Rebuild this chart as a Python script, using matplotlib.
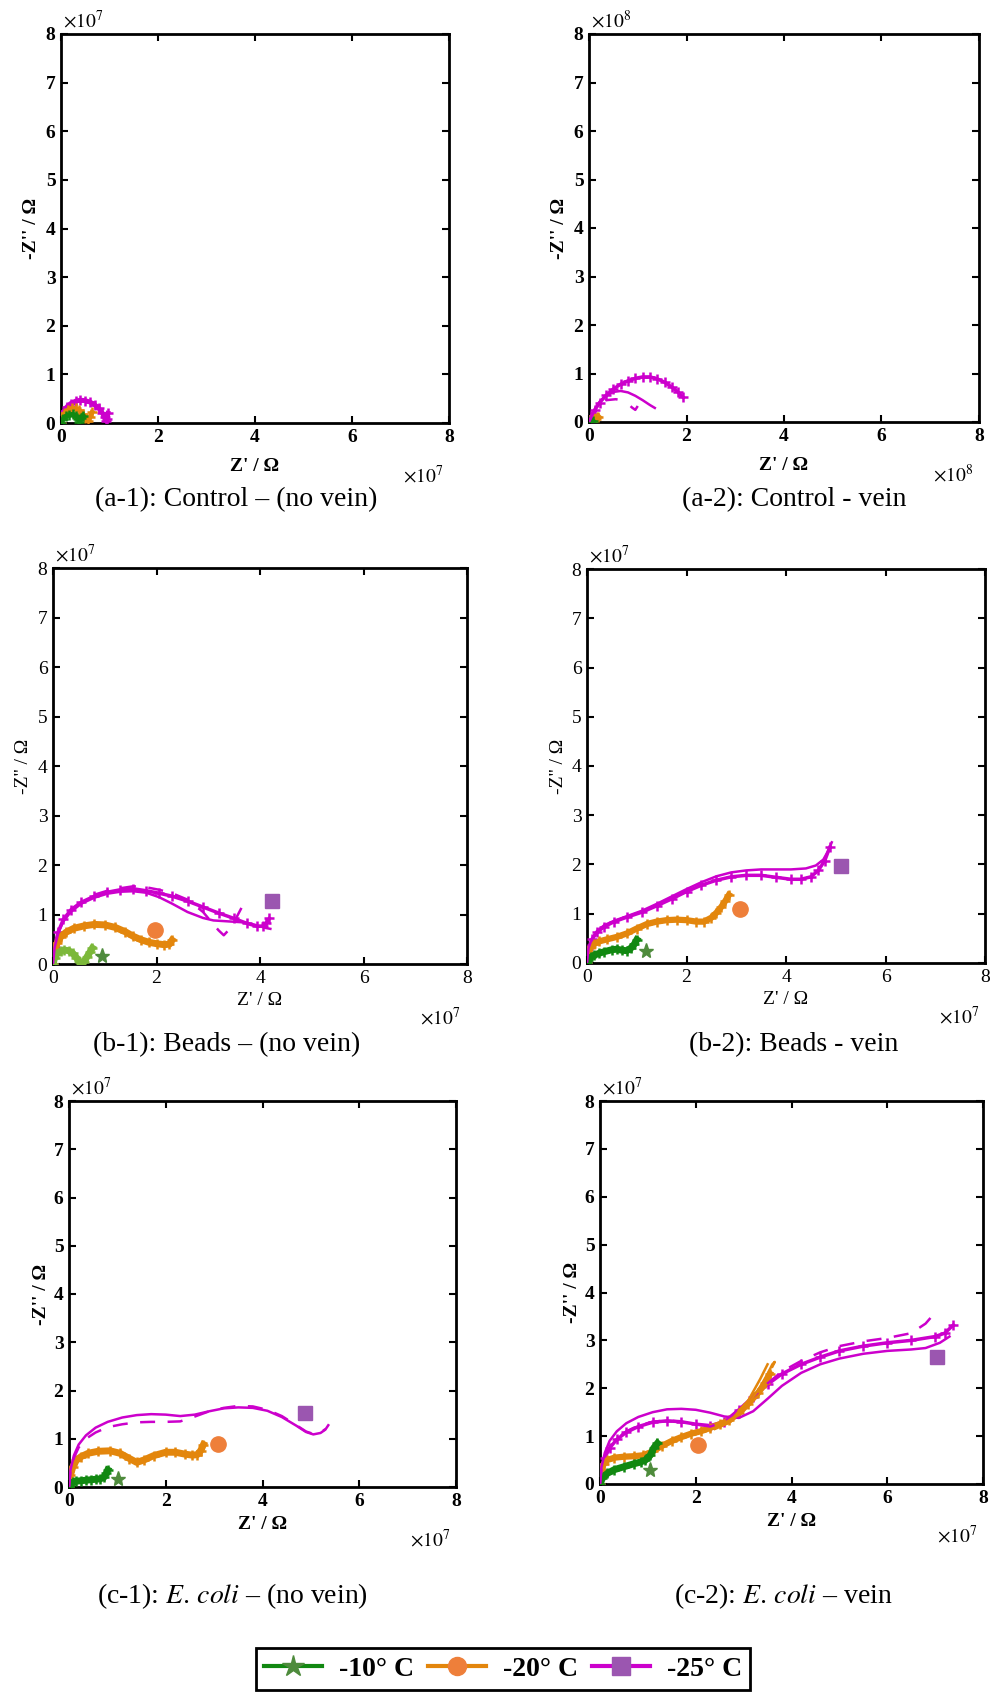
import matplotlib
matplotlib.use("Agg")
import matplotlib.pyplot as plt
from matplotlib.lines import Line2D

plt.rcParams['font.family'] = ['Liberation Serif', 'DejaVu Serif']
plt.rcParams['mathtext.fontset'] = 'stix'

MAG = '#cc00cc'
ORA = '#e3860c'
GRN = '#118811'
LGRN = '#7cb83a'
CIRC = '#ee7f3a'
SQR = '#9b56b0'
STAR = '#4e8b3c'

temps = ['-10° C', '-20° C', '-25° C']

# ---- (a-1) control, no vein  (x1e7)
a1_mag_x = [0, 0.02, 0.06, 0.12, 0.2, 0.3, 0.4, 0.5, 0.6, 0.7, 0.78, 0.85, 0.9, 0.93, 0.95, 0.97]
a1_mag_y = [0, 0.12, 0.24, 0.33, 0.4, 0.45, 0.47, 0.46, 0.43, 0.37, 0.3, 0.21, 0.12, 0.05, 0.08, 0.2]
a1_ora_x = [0, 0.03, 0.08, 0.15, 0.22, 0.3, 0.38, 0.45, 0.5, 0.55, 0.6, 0.64]
a1_ora_y = [0, 0.12, 0.21, 0.27, 0.3, 0.3, 0.26, 0.18, 0.1, 0.05, 0.12, 0.22]
a1_grn_x = [0, 0.04, 0.1, 0.17, 0.25, 0.3, 0.35, 0.38, 0.42, 0.45]
a1_grn_y = [0, 0.08, 0.14, 0.17, 0.18, 0.15, 0.08, 0.03, 0.1, 0.15]

# ---- (a-2) control, vein  (x1e8)
a2_mag_x = [0, 0.05, 0.12, 0.22, 0.35, 0.5, 0.65, 0.8, 0.95, 1.1, 1.25, 1.4, 1.55, 1.7, 1.82, 1.92]
a2_mag_y = [0, 0.12, 0.25, 0.4, 0.55, 0.68, 0.78, 0.85, 0.9, 0.93, 0.93, 0.89, 0.82, 0.72, 0.62, 0.52]
a2_magfit_x = [0, 0.05, 0.12, 0.22, 0.35, 0.5, 0.65, 0.8, 0.95, 1.1, 1.25, 1.35]
a2_magfit_y = [0, 0.13, 0.27, 0.42, 0.54, 0.62, 0.64, 0.61, 0.54, 0.45, 0.35, 0.29]
a2_magdash_x = [0, 0.1, 0.2, 0.35, 0.55, 0.7, 0.8, 0.88, 0.95, 1.0]
a2_magdash_y = [0, 0.2, 0.35, 0.45, 0.47, 0.44, 0.38, 0.3, 0.25, 0.33]
a2_ora_x = [0, 0.03, 0.07, 0.11, 0.15, 0.18]
a2_ora_y = [0, 0.04, 0.08, 0.09, 0.07, 0.1]
a2_grn_x = [0, 0.02, 0.05, 0.08]
a2_grn_y = [0, 0.02, 0.03, 0.02]

# ---- (b-1) beads, no vein
b1_mag_x = [0, 0.03, 0.1, 0.2, 0.35, 0.55, 0.8, 1.05, 1.3, 1.55, 1.8, 2.05, 2.3, 2.6, 2.9, 3.2, 3.5, 3.75, 3.95, 4.05, 4.12, 4.18]
b1_mag_y = [0, 0.35, 0.65, 0.9, 1.1, 1.25, 1.37, 1.45, 1.5, 1.52, 1.48, 1.43, 1.37, 1.27, 1.15, 1.03, 0.92, 0.82, 0.76, 0.77, 0.83, 0.92]
b1_magfit_x = [0, 0.03, 0.1, 0.2, 0.35, 0.55, 0.8, 1.05, 1.3, 1.55, 1.8, 2.05, 2.3, 2.6, 2.9, 3.1, 3.4, 3.7, 3.95, 4.1, 4.2]
b1_magfit_y = [0, 0.33, 0.62, 0.86, 1.06, 1.22, 1.34, 1.42, 1.46, 1.47, 1.44, 1.35, 1.22, 1.05, 0.93, 0.88, 0.86, 0.84, 0.78, 0.73, 0.71]
b1_magdash_x = [0.8, 1.05, 1.3, 1.55, 1.8, 2.05, 2.3, 2.6, 2.9, 3.1, 3.2, 3.3, 3.45, 3.6, 3.75]
b1_magdash_y = [1.4, 1.48, 1.53, 1.57, 1.55, 1.5, 1.43, 1.3, 1.05, 0.8, 0.68, 0.58, 0.75, 1.05, 1.35]
b1_ora_x = [0, 0.03, 0.08, 0.15, 0.25, 0.4, 0.6, 0.8, 1.0, 1.2, 1.4, 1.55, 1.7, 1.85, 2.0, 2.15, 2.25, 2.3]
b1_ora_y = [0, 0.25, 0.42, 0.55, 0.64, 0.72, 0.77, 0.8, 0.79, 0.74, 0.65, 0.56, 0.49, 0.44, 0.41, 0.39, 0.4, 0.48]
b1_grn_x = [0, 0.03, 0.08, 0.15, 0.22, 0.3, 0.38, 0.45, 0.5, 0.55, 0.6, 0.66, 0.72, 0.76]
b1_grn_y = [0, 0.12, 0.21, 0.26, 0.28, 0.27, 0.22, 0.13, 0.06, 0.01, 0.05, 0.15, 0.25, 0.32]
b1_points = [(0.95, 0.17), (1.98, 0.69), (4.23, 1.27)]

# ---- (b-2) beads, vein
b2_magfit_x = [0, 0.03, 0.1, 0.2, 0.35, 0.55, 0.8, 1.1, 1.4, 1.7, 2.0, 2.3, 2.6, 2.9, 3.2, 3.5, 3.8, 4.1, 4.4, 4.6, 4.75, 4.85, 4.92]
b2_magfit_y = [0, 0.3, 0.5, 0.65, 0.77, 0.86, 0.95, 1.06, 1.2, 1.35, 1.5, 1.64, 1.76, 1.84, 1.88, 1.9, 1.9, 1.9, 1.92, 1.98, 2.1, 2.28, 2.45]
b2_mag_x = [0, 0.03, 0.1, 0.2, 0.35, 0.55, 0.8, 1.1, 1.4, 1.7, 2.0, 2.3, 2.6, 2.9, 3.2, 3.5, 3.8, 4.1, 4.3, 4.5, 4.65, 4.78, 4.88]
b2_mag_y = [0, 0.28, 0.48, 0.62, 0.74, 0.84, 0.93, 1.03, 1.16, 1.3, 1.45, 1.58, 1.68, 1.75, 1.78, 1.78, 1.74, 1.7, 1.7, 1.75, 1.88, 2.08, 2.35]
b2_ora_x = [0, 0.03, 0.08, 0.15, 0.25, 0.4, 0.6, 0.8, 1.0, 1.2, 1.4, 1.6, 1.8, 2.0, 2.2, 2.35, 2.5, 2.6, 2.7, 2.78, 2.85]
b2_ora_y = [0, 0.2, 0.32, 0.39, 0.44, 0.48, 0.53, 0.6, 0.7, 0.79, 0.84, 0.87, 0.88, 0.87, 0.84, 0.84, 0.92, 1.02, 1.14, 1.26, 1.38]
b2_grn_x = [0, 0.03, 0.08, 0.15, 0.25, 0.35, 0.5, 0.6, 0.7, 0.8, 0.88, 0.95, 1.0]
b2_grn_y = [0, 0.07, 0.12, 0.16, 0.2, 0.23, 0.27, 0.28, 0.26, 0.25, 0.3, 0.38, 0.47]
b2_points = [(1.19, 0.25), (3.07, 1.1), (5.1, 1.97)]

# ---- (c-1) E. coli, no vein
c1_magfit_x = [0, 0.03, 0.1, 0.2, 0.35, 0.55, 0.8, 1.1, 1.4, 1.7, 2.0, 2.3, 2.6, 2.9, 3.2, 3.5, 3.8, 4.1, 4.4, 4.7, 4.9, 5.05, 5.2, 5.3, 5.36]
c1_magfit_y = [0, 0.35, 0.65, 0.88, 1.07, 1.23, 1.35, 1.44, 1.49, 1.51, 1.5, 1.47, 1.5, 1.57, 1.63, 1.65, 1.64, 1.58, 1.45, 1.27, 1.14, 1.09, 1.12, 1.19, 1.28]
c1_magdash_x = [0, 0.03, 0.1, 0.2, 0.35, 0.55, 0.8, 1.1, 1.4, 1.7, 2.0, 2.3, 2.6, 2.9, 3.2, 3.5, 3.8, 4.1, 4.4, 4.7, 4.9, 5.05, 5.2, 5.3]
c1_magdash_y = [0, 0.33, 0.6, 0.82, 1.0, 1.13, 1.24, 1.3, 1.34, 1.35, 1.35, 1.36, 1.46, 1.57, 1.64, 1.68, 1.67, 1.6, 1.47, 1.28, 1.15, 1.1, 1.13, 1.2]
c1_ora_x = [0, 0.03, 0.08, 0.15, 0.25, 0.4, 0.6, 0.85, 1.05, 1.25, 1.4, 1.55, 1.75, 2.0, 2.2, 2.4, 2.55, 2.65, 2.72, 2.78]
c1_ora_y = [0, 0.25, 0.42, 0.55, 0.63, 0.7, 0.74, 0.75, 0.7, 0.59, 0.51, 0.56, 0.65, 0.72, 0.72, 0.68, 0.66, 0.67, 0.75, 0.88]
c1_grn_x = [0, 0.03, 0.08, 0.15, 0.25, 0.35, 0.45, 0.55, 0.65, 0.72, 0.77, 0.8]
c1_grn_y = [0, 0.07, 0.1, 0.12, 0.13, 0.14, 0.15, 0.16, 0.17, 0.2, 0.28, 0.35]
c1_points = [(1.02, 0.17), (3.07, 0.89), (4.88, 1.53)]

# ---- (c-2) E. coli, vein
c2_magfit_x = [0, 0.03, 0.1, 0.2, 0.35, 0.55, 0.8, 1.1, 1.4, 1.7, 2.0, 2.3, 2.6, 2.9, 3.2, 3.5, 3.8, 4.2, 4.6, 5.0, 5.5, 6.0, 6.5, 6.8, 7.1, 7.3]
c2_magfit_y = [0, 0.35, 0.65, 0.9, 1.1, 1.27, 1.4, 1.5, 1.56, 1.57, 1.55, 1.49, 1.41, 1.38, 1.52, 1.78, 2.05, 2.32, 2.5, 2.62, 2.72, 2.78, 2.81, 2.84, 2.95, 3.08]
c2_mag_x = [0, 0.03, 0.1, 0.2, 0.35, 0.55, 0.8, 1.1, 1.4, 1.7, 2.0, 2.3, 2.6, 2.9, 3.2, 3.5, 3.8, 4.2, 4.6, 5.0, 5.5, 6.0, 6.5, 7.0, 7.2, 7.38]
c2_mag_y = [0, 0.3, 0.55, 0.75, 0.93, 1.08, 1.2, 1.29, 1.32, 1.3, 1.25, 1.22, 1.3, 1.55, 1.82, 2.08, 2.3, 2.5, 2.65, 2.78, 2.88, 2.95, 3.0, 3.08, 3.15, 3.32]
c2_magdash_x = [0, 0.03, 0.1, 0.2, 0.35, 0.55, 0.8, 1.1, 1.4, 1.7, 2.0, 2.3, 2.6, 2.9, 3.2, 3.5, 3.8, 4.2, 4.6, 5.0, 5.5, 6.0, 6.5, 6.8, 7.0]
c2_magdash_y = [0, 0.3, 0.56, 0.77, 0.95, 1.1, 1.22, 1.3, 1.33, 1.3, 1.25, 1.2, 1.3, 1.55, 1.82, 2.1, 2.35, 2.57, 2.75, 2.88, 2.98, 3.05, 3.15, 3.35, 3.58]
c2_ora_x = [0, 0.03, 0.08, 0.15, 0.3, 0.5, 0.7, 0.9, 1.1, 1.3, 1.5, 1.7, 1.9, 2.1, 2.3, 2.5, 2.7, 2.9, 3.1, 3.3, 3.45, 3.55]
c2_ora_y = [0, 0.3, 0.42, 0.5, 0.55, 0.57, 0.58, 0.6, 0.68, 0.8, 0.9, 0.98, 1.05, 1.1, 1.17, 1.25, 1.33, 1.48, 1.68, 1.9, 2.1, 2.3]
c2_orafit_x = [2.4, 2.7, 3.0, 3.3, 3.5, 3.6, 3.65, 3.6]
c2_orafit_y = [1.15, 1.28, 1.55, 1.95, 2.3, 2.5, 2.55, 2.45]
c2_orafit2_x = [2.5, 2.8, 3.1, 3.35, 3.5]
c2_orafit2_y = [1.2, 1.4, 1.75, 2.2, 2.5]
c2_grn_x = [0, 0.05, 0.15, 0.3, 0.5, 0.7, 0.85, 0.95, 1.05, 1.12, 1.2]
c2_grn_y = [0, 0.12, 0.22, 0.3, 0.36, 0.42, 0.46, 0.5, 0.6, 0.75, 0.85]
c2_points = [(1.04, 0.29), (2.05, 0.82), (7.03, 2.66)]

W, H = 992, 1695
fig = plt.figure(figsize=(W / 100, H / 100), dpi=100)


def make_ax(x0, y0, x1, y1):
    return fig.add_axes([x0 / W, 1 - y1 / H, (x1 - x0) / W, (y1 - y0) / H])


def style(ax, exp, weight, xlab_off, ylab_off):
    ax.set_xlim(0, 8)
    ax.set_ylim(0, 8)
    ax.set_xticks([0, 2, 4, 6, 8])
    ax.set_yticks(range(9))
    ax.tick_params(direction='in', top=True, right=True, length=5, width=1.5,
                   labelsize=14, pad=4)
    for lab in ax.get_xticklabels() + ax.get_yticklabels():
        lab.set_fontweight(weight)
    for sp in ax.spines.values():
        sp.set_linewidth(2)
    ax.set_xlabel("Z' / Ω", fontsize=14, fontweight=weight)
    ax.set_ylabel("-Z'' / Ω", fontsize=14, fontweight=weight)
    ax.xaxis.set_label_coords(0.5, xlab_off)
    ax.yaxis.set_label_coords(ylab_off, 0.5)
    ax.text(0.005, 1.006, r'$\times10^{%d}$' % exp, transform=ax.transAxes,
            ha='left', va='bottom', fontsize=14)
    ax.text(0.985, -0.135, r'$\times10^{%d}$' % exp, transform=ax.transAxes,
            ha='right', va='center', fontsize=14)


def data(ax, x, y, c, lw=2.5, ms=7):
    ax.plot(x, y, color=c, lw=lw, marker='+', ms=ms, mew=1.8, zorder=3)


def fit(ax, x, y, c, ls='-'):
    ax.plot(x, y, color=c, lw=1.8, ls=ls, zorder=4)


def points(ax, pts):
    ax.plot(*pts[0], marker='*', color=STAR, ms=11, ls='none', zorder=5)
    ax.plot(*pts[1], marker='o', color=CIRC, ms=11, ls='none', zorder=5)
    ax.plot(*pts[2], marker='s', color=SQR, ms=10, ls='none', zorder=5)


# a-1
ax = make_ax(61, 34, 449, 423)
data(ax, a1_mag_x, a1_mag_y, MAG, lw=3.5)
data(ax, a1_ora_x, a1_ora_y, ORA, lw=3.5)
data(ax, a1_grn_x, a1_grn_y, GRN, lw=3.5)
style(ax, 7, 'bold', -0.09, -0.055)

# a-2
ax = make_ax(589, 34, 979, 422)
data(ax, a2_mag_x, a2_mag_y, MAG, lw=2.5)
fit(ax, a2_magfit_x, a2_magfit_y, MAG)
fit(ax, a2_magdash_x, a2_magdash_y, MAG, ls=(0, (5, 6)))
data(ax, a2_ora_x, a2_ora_y, ORA, lw=5)
data(ax, a2_grn_x, a2_grn_y, GRN, lw=3)
style(ax, 8, 'bold', -0.09, -0.055)

# b-1
ax = make_ax(53, 568, 467, 964)
data(ax, b1_mag_x, b1_mag_y, MAG, lw=2.5)
fit(ax, b1_magfit_x, b1_magfit_y, MAG)
fit(ax, b1_magdash_x, b1_magdash_y, MAG, ls=(0, (6, 5)))
data(ax, b1_ora_x, b1_ora_y, ORA, lw=5)
data(ax, b1_grn_x, b1_grn_y, LGRN, lw=5)
points(ax, b1_points)
style(ax, 7, 'normal', -0.07, -0.05)

# b-2
ax = make_ax(587, 569, 985, 963)
fit(ax, b2_magfit_x, b2_magfit_y, MAG)
data(ax, b2_mag_x, b2_mag_y, MAG, lw=2.5)
data(ax, b2_ora_x, b2_ora_y, ORA, lw=4.5)
data(ax, b2_grn_x, b2_grn_y, GRN, lw=5)
points(ax, b2_points)
style(ax, 7, 'normal', -0.07, -0.05)

# c-1
ax = make_ax(69, 1101, 456, 1487)
fit(ax, c1_magfit_x, c1_magfit_y, MAG)
fit(ax, c1_magdash_x, c1_magdash_y, MAG, ls=(0, (6, 5)))
data(ax, c1_ora_x, c1_ora_y, ORA, lw=5)
data(ax, c1_grn_x, c1_grn_y, GRN, lw=5)
points(ax, c1_points)
style(ax, 7, 'bold', -0.075, -0.05)

# c-2
ax = make_ax(600, 1101, 983, 1484)
fit(ax, c2_magfit_x, c2_magfit_y, MAG)
fit(ax, c2_magdash_x, c2_magdash_y, MAG, ls=(0, (6, 5)))
data(ax, c2_mag_x, c2_mag_y, MAG, lw=2.5)
data(ax, c2_ora_x, c2_ora_y, ORA, lw=4.5)
fit(ax, c2_orafit_x, c2_orafit_y, ORA)
fit(ax, c2_orafit2_x, c2_orafit2_y, ORA)
data(ax, c2_grn_x, c2_grn_y, GRN, lw=5)
points(ax, c2_points)
style(ax, 7, 'bold', -0.075, -0.05)

captions = [
    (236, 500, '(a-1): Control – (no vein)'),
    (794, 500, '(a-2): Control - vein'),
    (227, 1045, '(b-1): Beads – (no vein)'),
    (794, 1045, '(b-2): Beads - vein'),
    (232, 1596, r'(c-1): $\mathit{E.\,coli}$ – (no vein)'),
    (783, 1596, r'(c-2): $\mathit{E.\,coli}$ – vein'),
]
for cx, cy, txt in captions:
    fig.text(cx / W, 1 - cy / H, txt, ha='center', va='center', fontsize=20)

handles = [
    Line2D([], [], color=GRN, lw=3, marker='*', mfc=STAR, mec=STAR, ms=16),
    Line2D([], [], color=ORA, lw=3, marker='o', mfc=CIRC, mec=CIRC, ms=13),
    Line2D([], [], color=MAG, lw=3, marker='s', mfc=SQR, mec=SQR, ms=13),
]
leg = fig.legend(handles, temps, loc='center', bbox_to_anchor=(503 / W, 1 - 1669 / H),
                 ncol=3, frameon=True, fancybox=False, edgecolor='black', framealpha=1,
                 handlelength=2.1, handletextpad=0.6, columnspacing=0.5, borderpad=0.3,
                 prop={'family': 'Liberation Serif', 'weight': 'bold', 'size': 20})
leg.get_frame().set_linewidth(2)

fig.savefig('out.png', dpi=100)
